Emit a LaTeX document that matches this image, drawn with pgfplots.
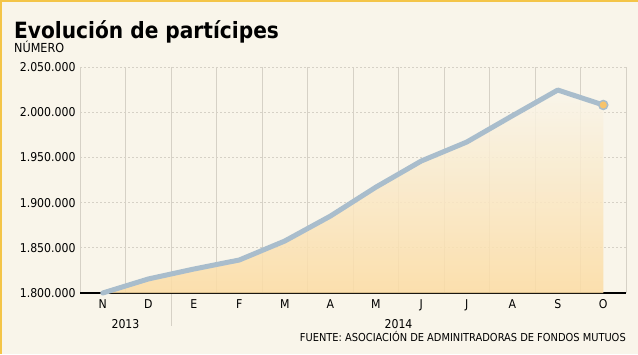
\documentclass[border=0pt]{standalone}
\usepackage{pgfplots}
\pgfplotsset{compat=1.18}
\usepackage{fontspec}
\setmainfont{DejaVu Sans Condensed}
\newfontfamily\titlefont{DejaVu Sans Condensed}
\definecolor{bg}{HTML}{F9F5EA}
\definecolor{gold}{HTML}{F4C548}
\definecolor{gridc}{HTML}{D6D1C6}
\definecolor{linec}{HTML}{A9BDCC}
\definecolor{fillc}{HTML}{FCDCA3}
\definecolor{markc}{HTML}{F8C46C}
\begin{document}
\begin{tikzpicture}[x=1bp,y=1bp]
\fill[bg] (0,0) rectangle (638,354);
\fill[gold] (0,0) rectangle (2,354);
\fill[gold] (0,352) rectangle (638,354);
\node[anchor=base west,font=\titlefont\bfseries\fontsize{22.5}{26}\selectfont,inner sep=0] at (14,316) {Evolución de partícipes};
\node[anchor=base west,font=\fontsize{12.5}{14}\selectfont,inner sep=0] at (14,302) {NÚMERO};
\draw[gridc, line width=1bp] (171,61) -- (171,28);
\begin{axis}[
  at={(80bp,61bp)}, anchor=south west,
  scale only axis, width=546bp, height=226bp,
  xmin=-0.5, xmax=11.5, ymin=1800000, ymax=2050000,
  xtick={0,...,11},
  xticklabels={N,D,E,F,M,A,M,J,J,A,S,O},
  minor xtick={-0.5,0.5,...,11.5},
  ytick={1800000,1850000,...,2050000},
  scaled y ticks=false,
  /pgf/number format/fixed,
  /pgf/number format/precision=0,
  /pgf/number format/1000 sep={.},
  /pgf/number format/assume math mode=true,
  ticklabel style={font=\fontsize{12.2}{14}\selectfont},
  xticklabel style={yshift=-3bp},
  yticklabel style={xshift=-1bp},
  major tick length=0pt, minor tick length=0pt,
  xminorgrids=true, ymajorgrids=true, xmajorgrids=false,
  minor grid style={draw=gridc, line width=1bp},
  major grid style={draw=gridc, line width=0.8bp, dash pattern=on 2bp off 2bp},
  axis x line*=bottom, axis y line*=left,
  x axis line style={-, line width=1.2bp, black},
  y axis line style={draw=none},
  clip=false,
]
\addplot[draw=none, fill opacity=0.85, top color=bg, bottom color=fillc] coordinates {
(0,1800000) (1,1815500) (2,1826500) (3,1836500) (4,1857500) (5,1885000)
(6,1917000) (7,1946000) (8,1967000) (9,1996000) (10,2024500) (11,2008000)} \closedcycle;
\addplot[linec, line width=5bp, line join=round, line cap=round] coordinates {
(0,1800000) (1,1815500) (2,1826500) (3,1836500) (4,1857500) (5,1885000)
(6,1917000) (7,1946000) (8,1967000) (9,1996000) (10,2024500) (11,2008000)};
\addplot[only marks, mark=*, mark size=4.5bp, mark options={fill=markc, draw=linec, line width=1.5bp}] coordinates {(11,2008000)};
\node[anchor=base, font=\fontsize{12.2}{14}\selectfont, inner sep=0] at (axis cs:0.5,1800000) [yshift=-35bp] {2013};
\node[anchor=base, font=\fontsize{12.2}{14}\selectfont, inner sep=0] at (axis cs:6.5,1800000) [yshift=-35bp] {2014};
\node[anchor=base east, font=\fontsize{11}{13}\selectfont, inner sep=0] at (axis cs:11.5,1800000) [yshift=-48bp] {FUENTE: ASOCIACIÓN DE ADMINITRADORAS DE FONDOS MUTUOS};
\end{axis}
\end{tikzpicture}
\end{document}
